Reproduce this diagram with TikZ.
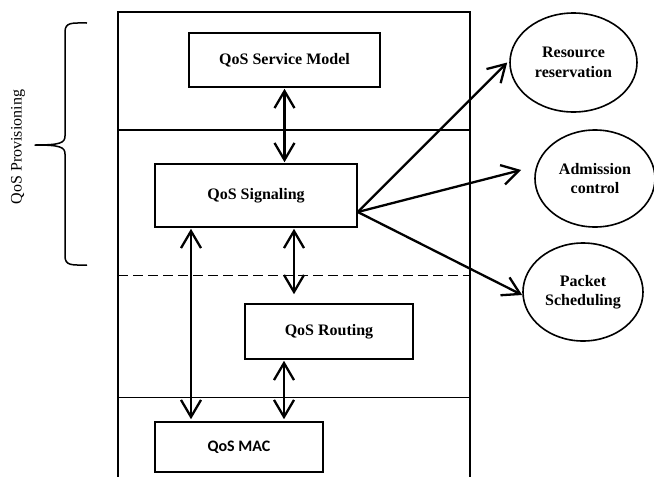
\documentclass[tikz,border=0pt]{standalone}
\usepackage{fontspec}
\setmainfont{Liberation Serif}
\newfontfamily\calibrifont{Carlito}
\usetikzlibrary{arrows.meta,shapes.geometric}

\begin{document}
\begin{tikzpicture}[x=1pt,y=-1pt,
  >={Straight Barb[length=17pt,width=20pt]},
  frame/.style={line width=1.4pt},
  layerbox/.style={draw,line width=1.6pt,rectangle,inner sep=0pt,
    font=\fontsize{16}{19}\selectfont\bfseries},
  oval/.style={draw,line width=1.6pt,ellipse,inner sep=0pt,align=center,
    font=\fontsize{16}{19.5}\selectfont\bfseries},
  link/.style={line width=2.3pt,<->},
  fanout/.style={line width=2.3pt,->}
]
\useasboundingbox (0,0) rectangle (654,477);

% stack frame, open at the bottom
\draw[frame] (118,477) -- (118,12) -- (470,12) -- (470,477);
\draw[frame] (118,130) -- (470,130);
\draw[frame,dash pattern=on 10pt off 5pt] (118,275.5) -- (470,275.5);
\draw[frame] (118,397.5) -- (470,397.5);

% layers
\node[layerbox,minimum width=191pt,minimum height=54pt] (sm) at (284.5,60) {QoS Service Model};
\node[layerbox,minimum width=202pt,minimum height=63pt] (sig) at (256,195.5) {QoS Signaling};
\node[layerbox,minimum width=168pt,minimum height=55pt] (rt) at (329,331.5) {QoS Routing};
\node[layerbox,minimum width=168pt,minimum height=50pt,font=\fontsize{16}{19}\selectfont\calibrifont\bfseries] (mac) at (239,447) {QoS MAC};

% provisioning functions
\node[oval,minimum width=127pt,minimum height=99pt] (rr) at (573.5,62.5) {Resource\\reservation};
\node[oval,minimum width=120pt,minimum height=97pt] (ac) at (595,178.5) {Admission\\control};
\node[oval,minimum width=120pt,minimum height=98pt] (ps) at (583,292) {Packet\\Scheduling};

% vertical interactions between layers
\draw[link] ([yshift=-1pt]sm.south) -- ([yshift=1pt]sm.south |- sig.north);
\draw[link] ([xshift=-65pt,yshift=-1pt]sig.south) -- ([xshift=-65pt,yshift=2pt]sig.south |- mac.north);
\draw[link,shorten >=9pt] ([xshift=38pt,yshift=-1pt]sig.south) -- ([xshift=38pt]sig.south |- rt.north);
\draw[link] ([xshift=-45pt,yshift=-1pt]rt.south) -- ([xshift=-45pt,yshift=2pt]rt.south |- mac.north);

% signaling fans out to the provisioning functions
\coordinate (fan) at ([yshift=-16.5pt]sig.east);
\draw[fanout] (fan) -- ([xshift=-2pt]rr.west);
\draw[fanout] (fan) -- ([xshift=-13pt,yshift=8.5pt]ac.west);
\draw[fanout] (fan) -- ([yshift=-3pt]ps.west);

% brace grouping the upper layers
\draw[line width=1.5pt,line join=round]
  (87,23) .. controls (72,23) and (65,22) .. (65,32)
  -- (65,136) .. controls (65,143) and (60,145) .. (35,145)
  .. controls (60,145) and (65,147) .. (65,154)
  -- (65,256) .. controls (65,266) and (72,265) .. (87,265);
\node[rotate=90,font=\fontsize{16}{19}\selectfont] (prov) at (18,147) {QoS Provisioning};
\end{tikzpicture}
\end{document}
